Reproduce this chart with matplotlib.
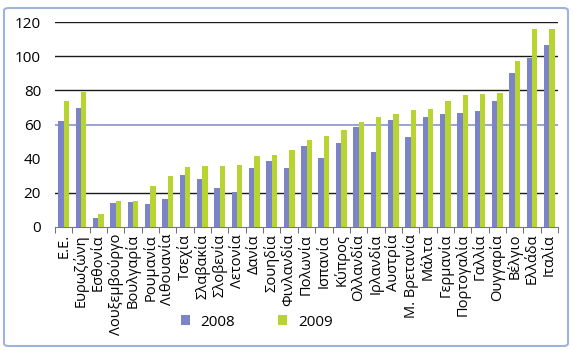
import matplotlib.pyplot as plt
from matplotlib.patches import FancyBboxPatch
import numpy as np

plt.rcParams['font.family'] = ['Open Sans', 'DejaVu Sans']

countries = ['Ε.Ε.', 'Ευρωζώνη', 'Εσθονία', 'Λουξεμβούργο', 'Βουλγαρία', 'Ρουμανία',
             'Λιθουανία', 'Τσεχία', 'Σλαβακία', 'Σλοβενία', 'Λετονία', 'Δανία', 'Σουηδία',
             'Φινλανδία', 'Πολωνία', 'Ισπανία', 'Κύπρος', 'Ολλανδία', 'Ιρλανδία', 'Αυστρία',
             'Μ. Βρετανία', 'Μάλτα', 'Γερμανία', 'Πορτογαλία', 'Γαλλία', 'Ουγγαρία',
             'Βέλγιο', 'Ελλάδα', 'Ιταλία']
debt_2008 = [61.8, 69.6, 5.1, 13.9, 14.5, 13.3, 16.2, 30.5, 28.1, 22.7, 20.3, 34.6, 38.7,
             34.6, 47.7, 40.1, 48.9, 58.8, 44.0, 62.9, 52.4, 64.3, 66.1, 66.6, 67.8, 73.5,
             90.3, 99.1, 106.7]
debt_2009 = [73.7, 79.1, 7.4, 15.0, 15.0, 24.0, 29.9, 35.2, 35.8, 35.8, 36.3, 41.8, 42.4,
             44.8, 51.2, 53.5, 56.5, 61.2, 64.3, 66.4, 68.4, 69.0, 73.5, 77.0, 77.8, 78.4,
             97.3, 115.7, 116.1]
yticks = [0, 20, 40, 60, 80, 100, 120]

fig = plt.figure(figsize=(5.74, 3.51), dpi=100)
ax = fig.add_axes([55 / 574, 1 - 227 / 351, 503 / 574, 205 / 351])

x = np.arange(len(countries))
w = 0.31
ax.bar(x - w / 2, debt_2008, w, color='#7b84c6', label='2008', zorder=3)
ax.bar(x + w / 2, debt_2009, w, color='#b8d430', label='2009', zorder=3)

# gridlines (no line at 40 in the original), blue reference line at 60
for v in [20, 80, 100, 120]:
    ax.axhline(v, color='#1a1a1a', lw=1.0, zorder=1)
ax.axhline(60, color='#8a92d4', lw=1.2, zorder=1)

ax.set_xlim(-0.5, len(countries) - 0.5)
ax.set_ylim(0, 120)
ax.set_yticks(yticks)
ax.tick_params(axis='y', length=0, pad=10, labelsize=11)
ax.set_xticks(x)
ax.set_xticklabels(countries, rotation=90, fontsize=10.5)
ax.tick_params(axis='x', length=0, pad=5)
ax.set_xticks(np.arange(len(countries) + 1) - 0.5, minor=True)
ax.tick_params(axis='x', which='minor', length=4, color='#555555')

for s in ['top', 'right', 'left']:
    ax.spines[s].set_visible(False)
ax.spines['bottom'].set_color('#777777')

fig.legend(loc='center', bbox_to_anchor=(0.447, 1 - 322 / 351), ncol=2, frameon=False,
           fontsize=11, handlelength=0.6, handleheight=0.6, columnspacing=2.8,
           handletextpad=0.7)

frame = FancyBboxPatch((4 / 574, 5 / 351), 564 / 574, 338 / 351,
                       boxstyle='round,pad=0,rounding_size=0.008',
                       transform=fig.transFigure, fill=False,
                       edgecolor='#9fb4dc', lw=1.5)
fig.patches.append(frame)

fig.savefig('out.png', dpi=100)
